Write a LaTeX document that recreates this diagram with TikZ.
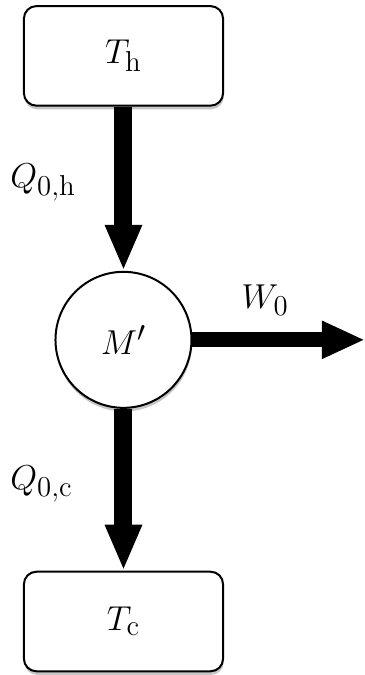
\documentclass[tikz,border=0pt]{standalone}
\usetikzlibrary{arrows.meta,shadows}
\tikzset{
  flow/.style={-{Triangle[length=23pt,width=17pt]},line width=9pt,draw=black},
  work/.style={-{Triangle[length=21.5pt,width=17.5pt]},line width=7.5pt,draw=black},
  reservoir/.style={draw=black,fill=white,rounded corners=2.2mm,line width=1pt,
    minimum width=3.50cm,minimum height=1.75cm,
    drop shadow={shadow xshift=0.3pt,shadow yshift=-1.8pt,opacity=0.45}},
  machine/.style={circle,draw=black,fill=white,line width=1pt,minimum size=2.39cm,inner sep=0pt,
    drop shadow={shadow xshift=0.3pt,shadow yshift=-1.8pt,opacity=0.45}},
  big/.style={font=\fontsize{19}{23}\selectfont},
  quantity/.style={big,inner sep=0pt},
}
\begin{document}
\begin{tikzpicture}[x=1cm,y=1cm]
\useasboundingbox (0,0) rectangle (6.414,11.862);

% reservoirs and machine
\node[reservoir,big] (hot) at (2.17,10.88) {$T_{\mathrm{h}}$};
\node[machine,big] (engine) at (2.17,5.89) {$M'$};
\node[reservoir,big] (cold) at (2.17,0.94) {$T_{\mathrm{c}}$};
\coordinate (out) at (6.414,5.89);

% heat and work flows
\draw[flow] (hot) -- (engine);
\draw[flow] (engine) -- (cold);
\draw[work] (engine) -- (out);

% labels
\node[quantity,anchor=west] (qh) at (0.176,8.65) {$Q_{0,\mathrm{h}}$};
\node[quantity,anchor=west] (qc) at (0.176,3.36) {$Q_{0,\mathrm{c}}$};
\node[quantity] (w) at (4.66,6.59) {$W_0$};

\end{tikzpicture}
\end{document}
